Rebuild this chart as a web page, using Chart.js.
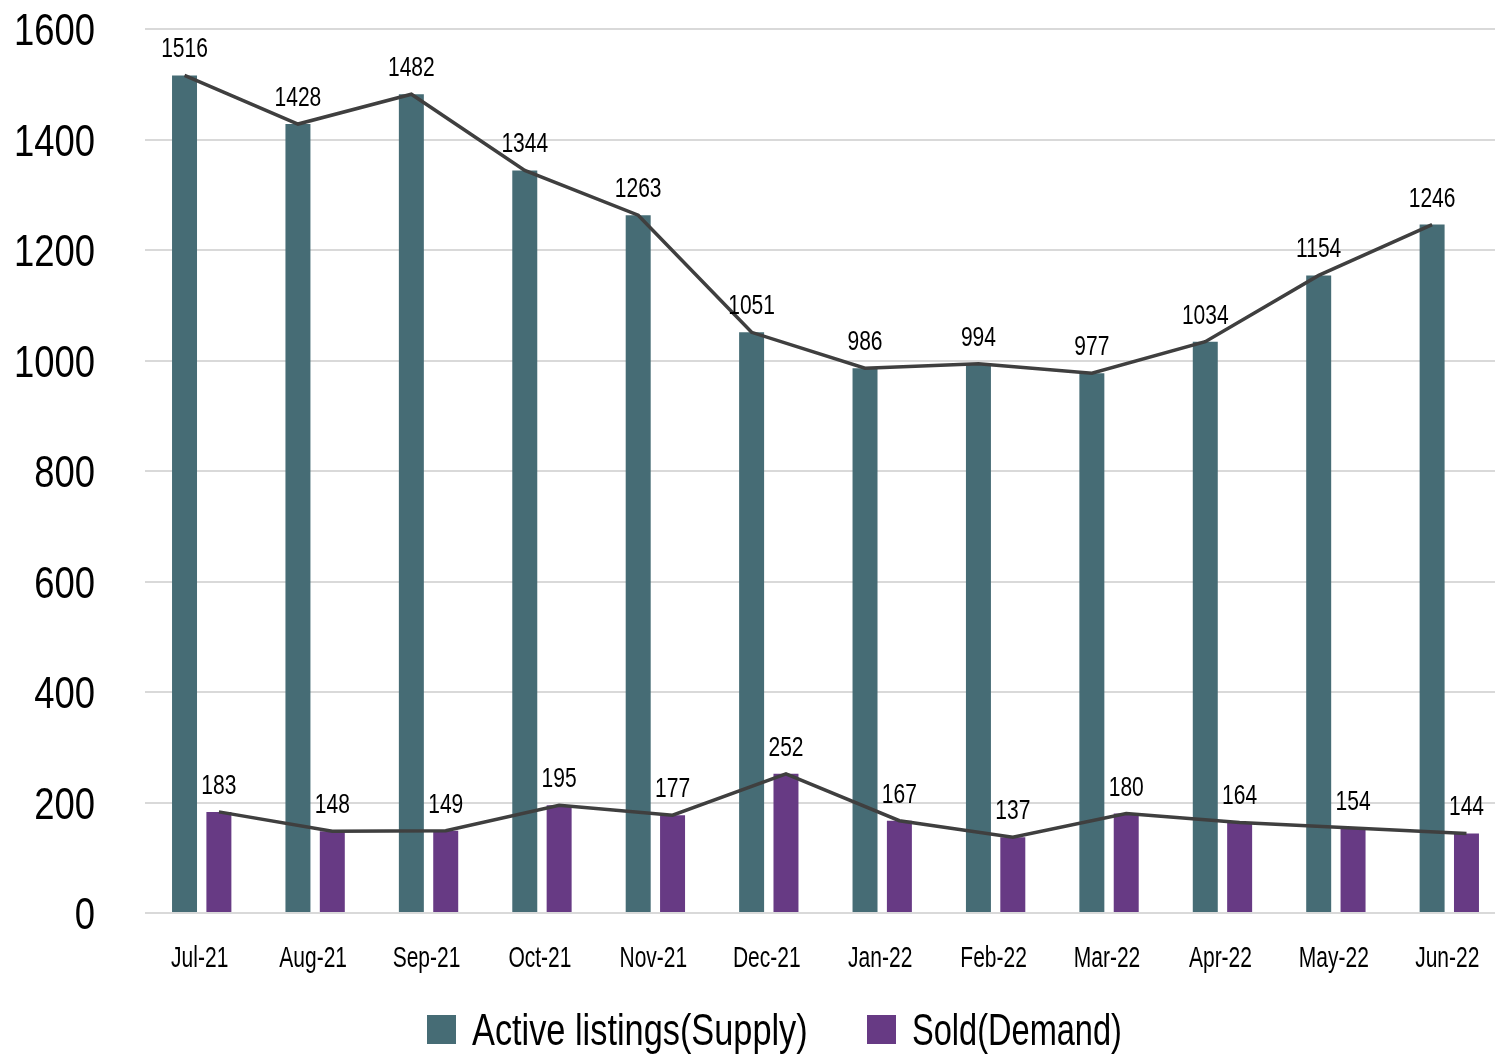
<!DOCTYPE html>
<html>
<head>
<meta charset="utf-8">
<script src="https://cdn.jsdelivr.net/npm/chart.js@4/dist/chart.umd.min.js"></script>
<style>
  html, body { margin:0; padding:0; background:#fff; overflow:hidden; }
  /* plot runs slightly past the right edge of the window, as in the original crop */
  #wrap { width:1506px; height:1057px; }
</style>
</head>
<body>
<div id="wrap"><canvas id="chart"></canvas></div>
<script>
/* data */
const months = ['Jul-21','Aug-21','Sep-21','Oct-21','Nov-21','Dec-21','Jan-22','Feb-22','Mar-22','Apr-22','May-22','Jun-22'];
const supply = [1516,1428,1482,1344,1263,1051,986,994,977,1034,1154,1246];
const sold   = [183,148,149,195,177,252,167,137,180,164,154,144];
const yTicks = [0,200,400,600,800,1000,1200,1400,1600];
const seriesNames = ['Active listings(Supply)','Sold(Demand)'];

const FONT = "'Liberation Sans', Arial, sans-serif";
const TEAL = '#466c75';
const PURPLE = '#673a84';
const LINE = '#3f3f3f';

// narrow text (the original uses a condensed face)
function narrowText(ctx, txt, x, y, size, sx, align) {
  ctx.save();
  ctx.translate(x, y);
  ctx.scale(sx, 1);
  ctx.font = size + 'px ' + FONT;
  ctx.fillStyle = '#000';
  ctx.textAlign = align;
  ctx.textBaseline = 'alphabetic';
  ctx.fillText(txt, 0, 0);
  ctx.restore();
}

// trend lines sit on the centre of their own bar
const alignLines = {
  id: 'alignLines',
  afterDatasetsUpdate(chart) {
    chart.data.datasets.forEach((ds, k) => {
      if (ds.type !== 'line') return;
      const bars = chart.getDatasetMeta(ds.barIndex).data;
      chart.getDatasetMeta(k).data.forEach((pt, i) => { pt.x = bars[i].x; });
    });
  }
};

// axis texts, value labels and legend
const texts = {
  id: 'texts',
  afterDraw(chart) {
    const ctx = chart.ctx;
    const x = chart.scales.x, y = chart.scales.y;
    yTicks.forEach(v => narrowText(ctx, String(v), 95, y.getPixelForValue(v) + 16, 45, 0.81, 'right'));
    months.forEach((m, i) => narrowText(ctx, m, x.getPixelForValue(i) - 2, 967, 30, 0.7, 'center'));
    [0, 1].forEach(di => {
      chart.getDatasetMeta(di).data.forEach((bar, i) => {
        narrowText(ctx, String(chart.data.datasets[di].data[i]), bar.x, bar.y - 18, 28, 0.75, 'center');
      });
    });
    // legend
    const items = [{ c: TEAL, x: 427, sx: 0.78 }, { c: PURPLE, x: 867, sx: 0.74 }];
    items.forEach((it, i) => {
      ctx.fillStyle = it.c;
      ctx.fillRect(it.x, 1015, 29, 29);
      narrowText(ctx, seriesNames[i], it.x + 45, 1045, 44, it.sx, 'left');
    });
  }
};

new Chart(document.getElementById('chart'), {
  type: 'bar',
  data: {
    labels: months,
    datasets: [
      { label: seriesNames[0], data: supply, backgroundColor: TEAL, categoryPercentage: 0.606, barPercentage: 0.727, order: 2 },
      { label: seriesNames[1], data: sold, backgroundColor: PURPLE, categoryPercentage: 0.606, barPercentage: 0.727, order: 2 },
      { type: 'line', barIndex: 0, data: supply, borderColor: LINE, borderWidth: 3.5, pointRadius: 0, tension: 0, order: 1 },
      { type: 'line', barIndex: 1, data: sold, borderColor: LINE, borderWidth: 3.5, pointRadius: 0, tension: 0, order: 1 }
    ]
  },
  options: {
    responsive: true,
    maintainAspectRatio: false,
    animation: false,
    layout: { padding: { top: 29, left: 145, right: 0, bottom: 144 } },
    plugins: {
      legend: { display: false },
      tooltip: { enabled: false }
    },
    scales: {
      x: {
        grid: { display: false, drawTicks: false },
        border: { display: false },
        ticks: { display: false }
      },
      y: {
        min: 0, max: 1600,
        afterBuildTicks: axis => { axis.ticks = yTicks.map(v => ({ value: v })); },
        grid: { color: '#d9d9d9', lineWidth: 2, drawTicks: false },
        border: { display: false },
        ticks: { display: false }
      }
    }
  },
  plugins: [alignLines, texts]
});
</script>
</body>
</html>
